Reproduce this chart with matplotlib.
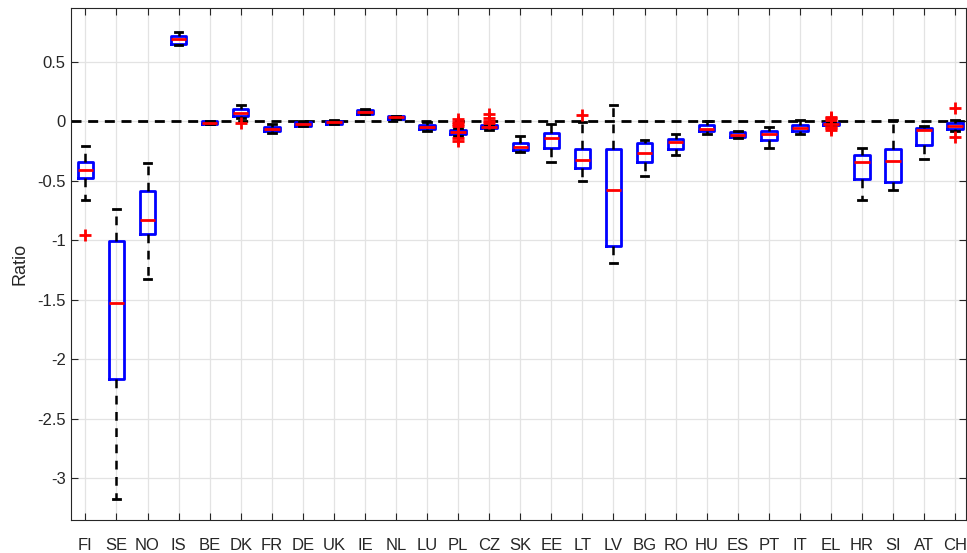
import matplotlib.pyplot as plt
import numpy as np

plt.rcParams['font.family'] = ['Liberation Sans', 'DejaVu Sans']

countries = ['FI', 'SE', 'NO', 'IS', 'BE', 'DK', 'FR', 'DE', 'UK', 'IE', 'NL', 'LU', 'PL', 'CZ', 'SK',
             'EE', 'LT', 'LV', 'BG', 'RO', 'HU', 'ES', 'PT', 'IT', 'EL', 'HR', 'SI', 'AT', 'CH']

whishi = [-0.21, -0.74, -0.35, 0.75, 0.005, 0.138, -0.025, 0.0, 0.01, 0.10, 0.048, -0.005, -0.055, -0.02, -0.125,
          -0.025, -0.005, 0.14, -0.16, -0.105, 0.0, -0.085, -0.048, 0.008, -0.005, -0.22, 0.014, -0.04, 0.01]
q3 = [-0.34, -1.005, -0.585, 0.72, 0.0, 0.10, -0.045, -0.003, 0.005, 0.098, 0.045, -0.03, -0.072, -0.03, -0.178,
      -0.10, -0.23, -0.23, -0.18, -0.15, -0.03, -0.09, -0.082, -0.03, -0.01, -0.28, -0.23, -0.053, -0.01]
med = [-0.405, -1.53, -0.83, 0.69, -0.01, 0.073, -0.06, -0.02, -0.005, 0.08, 0.035, -0.045, -0.09, -0.045, -0.212,
       -0.14, -0.325, -0.575, -0.265, -0.17, -0.06, -0.113, -0.11, -0.056, -0.02, -0.345, -0.33, -0.076, -0.036]
q1 = [-0.48, -2.17, -0.945, 0.655, -0.02, 0.048, -0.08, -0.036, -0.02, 0.06, 0.02, -0.065, -0.11, -0.058, -0.243,
      -0.225, -0.39, -1.045, -0.34, -0.23, -0.08, -0.135, -0.155, -0.078, -0.03, -0.485, -0.51, -0.195, -0.065]
whislo = [-0.66, -3.18, -1.33, 0.64, -0.025, 0.026, -0.095, -0.04, -0.025, 0.058, 0.018, -0.08, -0.125, -0.07, -0.255,
          -0.34, -0.5, -1.19, -0.46, -0.28, -0.105, -0.14, -0.225, -0.11, -0.035, -0.66, -0.58, -0.32, -0.078]
fliers = [[-0.96], [], [], [], [], [-0.015], [], [], [], [], [], [],
          [0.02, -0.005, -0.02, -0.035, -0.14, -0.165], [0.06, 0.03, 0.0, -0.01], [],
          [], [0.055], [], [], [], [], [], [], [],
          [0.04, 0.025, 0.01, -0.045, -0.055, -0.07], [], [], [], [0.11, -0.13]]

yticks = [-3, -2.5, -2, -1.5, -1, -0.5, 0, 0.5]

stats = []
for i in range(len(countries)):
    stats.append(dict(med=med[i], q1=q1[i], q3=q3[i], whislo=whislo[i], whishi=whishi[i],
                      fliers=fliers[i], label=countries[i]))

fig = plt.figure(figsize=(9.67, 5.53), dpi=100)
ax = fig.add_axes([70.5 / 967, 1 - 520 / 553, (966 - 70.5) / 967, (520 - 8) / 553])

pos = np.arange(1, len(countries) + 1)
# zero reference line
ax.axhline(0, color='black', lw=2, ls=(0, (3.6, 2.4)), zorder=1)
ax.bxp(stats, positions=pos, widths=0.5, showfliers=True, patch_artist=False,
       boxprops=dict(color='blue', lw=2),
       medianprops=dict(color='red', lw=2),
       whiskerprops=dict(color='black', lw=1.8, ls=(0, (3.5, 3))),
       capprops=dict(color='black', lw=2),
       flierprops=dict(marker='+', markeredgecolor='red', markersize=8, markeredgewidth=2, ls='none'),
       zorder=3)

ax.set_xlim(0.52, 29.35)
ax.set_ylim(-3.354, 0.954)
ax.set_xticks(pos)
ax.set_xticklabels(countries)
ax.set_yticks(yticks)
ax.set_yticklabels(['%g' % t for t in yticks])
ax.grid(True, color='#e3e3e3', lw=0.9)
ax.set_axisbelow(True)
ax.tick_params(direction='in', top=True, right=True, length=5, width=0.8, colors='#262626', labelsize=12)
ax.tick_params(axis='x', pad=13)
for s in ax.spines.values():
    s.set_color('#262626')
    s.set_linewidth(0.8)
ax.set_ylabel('Ratio', fontsize=13, color='#262626', labelpad=6)

fig.savefig('out.png', dpi=100)
